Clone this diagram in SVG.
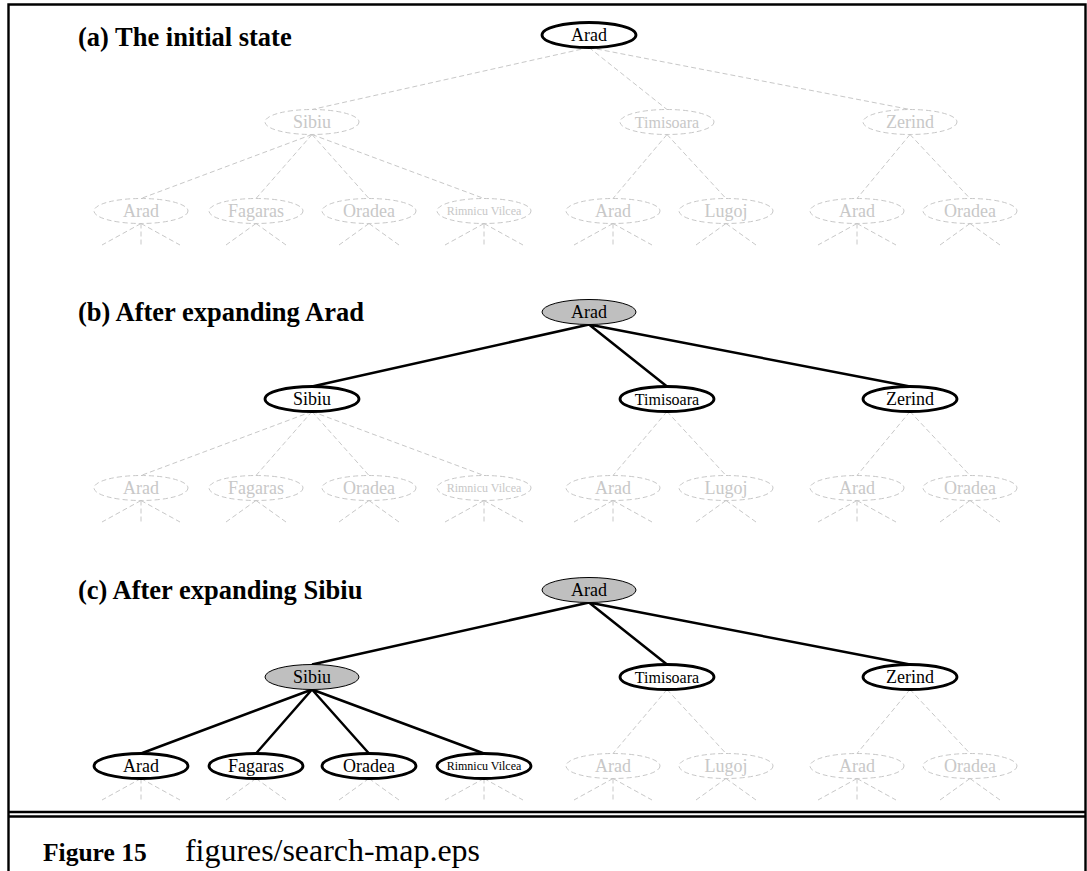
<svg xmlns="http://www.w3.org/2000/svg" width="1087" height="871" viewBox="0 0 1087 871">
<style>
text{font-family:"Liberation Serif","Times New Roman",serif;font-size:18px;text-anchor:middle;fill:#000}
text.title{font-weight:bold;font-size:26.5px;text-anchor:start}
text.fig{font-weight:bold;font-size:25.5px;text-anchor:start}
text.path{font-size:31px;text-anchor:start}
.dn ellipse{fill:none;stroke:#c8c8c8;stroke-width:1;stroke-dasharray:5 3}
.dn text{fill:#c8c8c8}
.on ellipse{fill:#fff;stroke:#000;stroke-width:2.8}
.ex ellipse{fill:#bfbfbf;stroke:#000;stroke-width:1}
text.sm{font-size:16px}
text.xs{font-size:12px}
.dash{fill:none;stroke:#c8c8c8;stroke-width:1;stroke-dasharray:5 3}
.solid{fill:none;stroke:#000;stroke-width:2.5}
.frame{fill:none;stroke:#000;stroke-width:2.4}
</style>

<g id="frame">
<path class="frame" d="M8.5,871V4.5H1085.5V871"/>
<path class="frame" d="M8.5,812H1085.5M8.5,816.5H1085.5" stroke-width="2"/>
</g>

<g id="titles">
<text class="title" x="78" y="46">(a) The initial state</text>
<text class="title" x="78" y="321">(b) After expanding Arad</text>
<text class="title" x="78" y="599">(c) After expanding Sibiu</text>
</g>

<!-- Panel (a) -->
<g id="panel-a">
<g id="connectors-a">
<path class="dash" d="M589,47.5L312,109.5M589,47.5L667,109.5M589,47.5L910,109.5"/>
<path class="dash" d="M312,134.5L141,198.5M312,134.5L256,198.5M312,134.5L369,198.5M312,134.5L484,198.5M667,134.5L613,198.5M667,134.5L726,198.5M910,134.5L857,198.5M910,134.5L970,198.5"/>
<path class="dash" d="M141,223.5L102,245M141,223.5V245M141,223.5L180,245M256,223.5L226,245M256,223.5L286,245M369,223.5L339,245M369,223.5L399,245M484,223.5L445,245M484,223.5V245M484,223.5L523,245M613,223.5L574,245M613,223.5V245M613,223.5L652,245M726,223.5L696,245M726,223.5L756,245M857,223.5L818,245M857,223.5V245M857,223.5L896,245M970,223.5L940,245M970,223.5L1000,245"/>
</g>
<g id="a-arad" class="on"><ellipse cx="589" cy="35" rx="47" ry="12.5"/><text x="589" y="41">Arad</text></g>
<g id="a-sibiu" class="dn"><ellipse cx="312" cy="122" rx="47" ry="12.5"/><text x="312" y="128">Sibiu</text></g>
<g id="a-timisoara" class="dn"><ellipse cx="667" cy="122" rx="47" ry="12.5"/><text class="sm" x="667" y="127.5">Timisoara</text></g>
<g id="a-zerind" class="dn"><ellipse cx="910" cy="122" rx="47" ry="12.5"/><text x="910" y="128">Zerind</text></g>
<g id="a-arad-s" class="dn"><ellipse cx="141" cy="211" rx="47" ry="12.5"/><text x="141" y="217">Arad</text></g>
<g id="a-fagaras" class="dn"><ellipse cx="256" cy="211" rx="47" ry="12.5"/><text x="256" y="217">Fagaras</text></g>
<g id="a-oradea-s" class="dn"><ellipse cx="369" cy="211" rx="47" ry="12.5"/><text x="369" y="217">Oradea</text></g>
<g id="a-rimnicu" class="dn"><ellipse cx="484" cy="211" rx="47" ry="12.5"/><text class="xs" x="484" y="215">Rimnicu Vilcea</text></g>
<g id="a-arad-t" class="dn"><ellipse cx="613" cy="211" rx="47" ry="12.5"/><text x="613" y="217">Arad</text></g>
<g id="a-lugoj" class="dn"><ellipse cx="726" cy="211" rx="47" ry="12.5"/><text x="726" y="217">Lugoj</text></g>
<g id="a-arad-z" class="dn"><ellipse cx="857" cy="211" rx="47" ry="12.5"/><text x="857" y="217">Arad</text></g>
<g id="a-oradea-z" class="dn"><ellipse cx="970" cy="211" rx="47" ry="12.5"/><text x="970" y="217">Oradea</text></g>
</g>

<!-- Panel (b) -->
<g id="panel-b" transform="translate(0,277)">
<g id="connectors-b">
<path class="solid" d="M589,47.5L312,109.5M589,47.5L667,109.5M589,47.5L910,109.5"/>
<path class="dash" d="M312,134.5L141,198.5M312,134.5L256,198.5M312,134.5L369,198.5M312,134.5L484,198.5M667,134.5L613,198.5M667,134.5L726,198.5M910,134.5L857,198.5M910,134.5L970,198.5"/>
<path class="dash" d="M141,223.5L102,245M141,223.5V245M141,223.5L180,245M256,223.5L226,245M256,223.5L286,245M369,223.5L339,245M369,223.5L399,245M484,223.5L445,245M484,223.5V245M484,223.5L523,245M613,223.5L574,245M613,223.5V245M613,223.5L652,245M726,223.5L696,245M726,223.5L756,245M857,223.5L818,245M857,223.5V245M857,223.5L896,245M970,223.5L940,245M970,223.5L1000,245"/>
</g>
<g id="b-arad" class="ex"><ellipse cx="589" cy="35" rx="47" ry="12.5"/><text x="589" y="41">Arad</text></g>
<g id="b-sibiu" class="on"><ellipse cx="312" cy="122" rx="47" ry="12.5"/><text x="312" y="128">Sibiu</text></g>
<g id="b-timisoara" class="on"><ellipse cx="667" cy="122" rx="47" ry="12.5"/><text class="sm" x="667" y="127.5">Timisoara</text></g>
<g id="b-zerind" class="on"><ellipse cx="910" cy="122" rx="47" ry="12.5"/><text x="910" y="128">Zerind</text></g>
<g id="b-arad-s" class="dn"><ellipse cx="141" cy="211" rx="47" ry="12.5"/><text x="141" y="217">Arad</text></g>
<g id="b-fagaras" class="dn"><ellipse cx="256" cy="211" rx="47" ry="12.5"/><text x="256" y="217">Fagaras</text></g>
<g id="b-oradea-s" class="dn"><ellipse cx="369" cy="211" rx="47" ry="12.5"/><text x="369" y="217">Oradea</text></g>
<g id="b-rimnicu" class="dn"><ellipse cx="484" cy="211" rx="47" ry="12.5"/><text class="xs" x="484" y="215">Rimnicu Vilcea</text></g>
<g id="b-arad-t" class="dn"><ellipse cx="613" cy="211" rx="47" ry="12.5"/><text x="613" y="217">Arad</text></g>
<g id="b-lugoj" class="dn"><ellipse cx="726" cy="211" rx="47" ry="12.5"/><text x="726" y="217">Lugoj</text></g>
<g id="b-arad-z" class="dn"><ellipse cx="857" cy="211" rx="47" ry="12.5"/><text x="857" y="217">Arad</text></g>
<g id="b-oradea-z" class="dn"><ellipse cx="970" cy="211" rx="47" ry="12.5"/><text x="970" y="217">Oradea</text></g>
</g>

<!-- Panel (c) -->
<g id="panel-c" transform="translate(0,555)">
<g id="connectors-c">
<path class="solid" d="M589,47.5L312,109.5M589,47.5L667,109.5M589,47.5L910,109.5"/>
<path class="solid" d="M312,134.5L141,198.5M312,134.5L256,198.5M312,134.5L369,198.5M312,134.5L484,198.5"/>
<path class="dash" d="M667,134.5L613,198.5M667,134.5L726,198.5M910,134.5L857,198.5M910,134.5L970,198.5"/>
<path class="dash" d="M141,223.5L102,245M141,223.5V245M141,223.5L180,245M256,223.5L226,245M256,223.5L286,245M369,223.5L339,245M369,223.5L399,245M484,223.5L445,245M484,223.5V245M484,223.5L523,245M613,223.5L574,245M613,223.5V245M613,223.5L652,245M726,223.5L696,245M726,223.5L756,245M857,223.5L818,245M857,223.5V245M857,223.5L896,245M970,223.5L940,245M970,223.5L1000,245"/>
</g>
<g id="c-arad" class="ex"><ellipse cx="589" cy="35" rx="47" ry="12.5"/><text x="589" y="41">Arad</text></g>
<g id="c-sibiu" class="ex"><ellipse cx="312" cy="122" rx="47" ry="12.5"/><text x="312" y="128">Sibiu</text></g>
<g id="c-timisoara" class="on"><ellipse cx="667" cy="122" rx="47" ry="12.5"/><text class="sm" x="667" y="127.5">Timisoara</text></g>
<g id="c-zerind" class="on"><ellipse cx="910" cy="122" rx="47" ry="12.5"/><text x="910" y="128">Zerind</text></g>
<g id="c-arad-s" class="on"><ellipse cx="141" cy="211" rx="47" ry="12.5"/><text x="141" y="217">Arad</text></g>
<g id="c-fagaras" class="on"><ellipse cx="256" cy="211" rx="47" ry="12.5"/><text x="256" y="217">Fagaras</text></g>
<g id="c-oradea-s" class="on"><ellipse cx="369" cy="211" rx="47" ry="12.5"/><text x="369" y="217">Oradea</text></g>
<g id="c-rimnicu" class="on"><ellipse cx="484" cy="211" rx="47" ry="12.5"/><text class="xs" x="484" y="215">Rimnicu Vilcea</text></g>
<g id="c-arad-t" class="dn"><ellipse cx="613" cy="211" rx="47" ry="12.5"/><text x="613" y="217">Arad</text></g>
<g id="c-lugoj" class="dn"><ellipse cx="726" cy="211" rx="47" ry="12.5"/><text x="726" y="217">Lugoj</text></g>
<g id="c-arad-z" class="dn"><ellipse cx="857" cy="211" rx="47" ry="12.5"/><text x="857" y="217">Arad</text></g>
<g id="c-oradea-z" class="dn"><ellipse cx="970" cy="211" rx="47" ry="12.5"/><text x="970" y="217">Oradea</text></g>
</g>

<g id="caption">
<text class="fig" x="43" y="861">Figure 15</text>
<text class="path" x="185" y="861" textLength="295" lengthAdjust="spacingAndGlyphs">figures/search-map.eps</text>
</g>
</svg>
